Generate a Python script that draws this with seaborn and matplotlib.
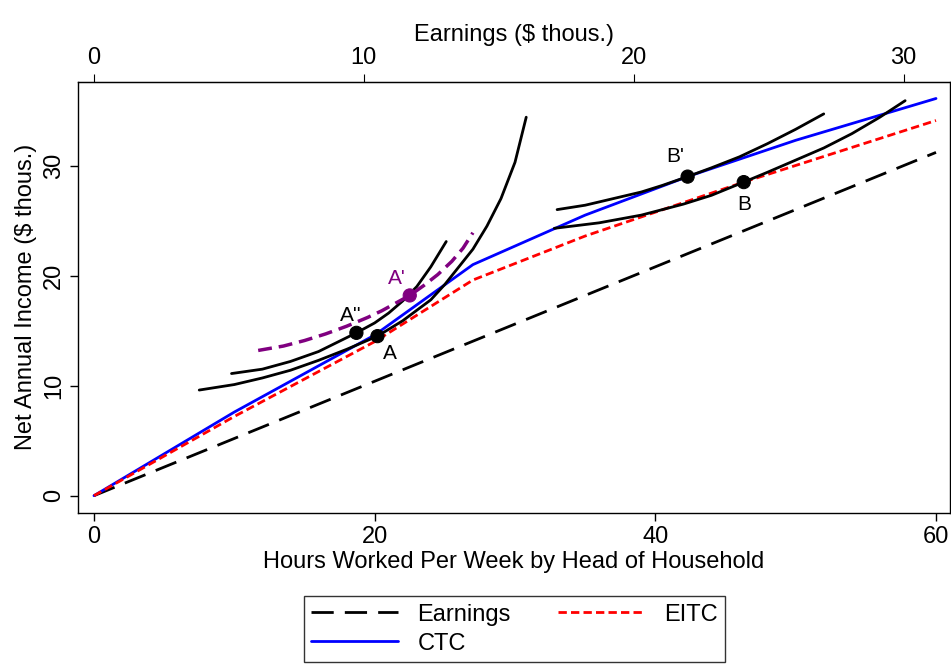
import matplotlib
matplotlib.use("Agg")
import matplotlib.pyplot as plt
from matplotlib.lines import Line2D
import seaborn as sns

sns.set_style("ticks")
plt.rcParams['font.family'] = ['Liberation Sans', 'DejaVu Sans']
plt.rcParams['text.color'] = 'black'
plt.rcParams['axes.labelcolor'] = 'black'
plt.rcParams['xtick.color'] = 'black'
plt.rcParams['ytick.color'] = 'black'

hours_budget = [0, 60]
earnings_line = [0, 31.2]
eitc_h = [0, 10, 20, 27, 35, 46.3, 60]
eitc_y = [0, 7.2, 14.0, 19.6, 23.6, 28.5, 34.1]
ctc_h = [0, 10, 20, 27, 35, 42.3, 50, 60]
ctc_y = [0, 7.6, 14.6, 21.0, 25.5, 29.0, 32.3, 36.1]

icA_h = [7.5, 10, 12, 14, 16, 18, 20.2, 22, 24, 25, 26, 27, 28, 29, 30, 30.8]
icA_y = [9.6, 10.1, 10.7, 11.4, 12.3, 13.3, 14.5, 15.9, 17.8, 19.2, 20.8, 22.4, 24.5, 27.0, 30.3, 34.4]
icA2_h = [9.8, 12, 14, 16, 18.7, 20, 21, 22, 23, 24, 25.1]
icA2_y = [11.1, 11.5, 12.2, 13.1, 14.8, 15.7, 16.6, 17.7, 19.0, 20.8, 23.1]
icAp_h = [11.7, 13.5, 15, 16.5, 18, 19.5, 20.5, 21.5, 22.5, 23.5, 24.5, 25.5, 26.3, 27]
icAp_y = [13.2, 13.6, 14.1, 14.7, 15.4, 16.2, 16.8, 17.5, 18.2, 19.1, 20.1, 21.3, 22.5, 23.9]
icBp_h = [33, 35, 37, 39, 40.5, 42.3, 44, 46, 48, 50, 52]
icBp_y = [26.0, 26.4, 27.0, 27.6, 28.2, 29.0, 29.8, 30.8, 32.0, 33.3, 34.7]
icB_h = [32.8, 36, 39, 42, 44, 46.3, 48, 50, 52, 54, 56, 57.8]
icB_y = [24.3, 24.8, 25.5, 26.5, 27.3, 28.5, 29.4, 30.5, 31.6, 32.9, 34.4, 35.9]

pt_labels = ["A", "A''", "A'", "B'", "B"]
pt_h = [20.2, 18.7, 22.5, 42.3, 46.3]
pt_y = [14.5, 14.8, 18.2, 29.0, 28.5]

fig = plt.figure(figsize=(9.51, 6.72), dpi=100)
ax = fig.add_axes([0.082, 0.237, 0.917, 0.641])

def line(x, y, **kw):
    sns.lineplot(x=x, y=y, ax=ax, estimator=None, sort=False, legend=False, **kw)

line(hours_budget, earnings_line, color='black', lw=2, dashes=(8, 4))
line(ctc_h, ctc_y, color='blue', lw=2)
line(eitc_h, eitc_y, color='red', lw=2, dashes=(3, 1.5))
for hx, hy in [(icA_h, icA_y), (icA2_h, icA2_y), (icBp_h, icBp_y), (icB_h, icB_y)]:
    line(hx, hy, color='black', lw=2)
line(icAp_h, icAp_y, color='purple', lw=2.5, dashes=(4, 2))

cols = ['black', 'black', 'purple', 'black', 'black']
sns.scatterplot(x=pt_h, y=pt_y, ax=ax, color=cols, s=90, zorder=5, edgecolor=None, legend=False)
offs = [(0.9, -1.6), (-0.4, 1.6), (-0.9, 1.5), (-0.9, 1.8), (0, -2.0)]
for lab, hx, hy, c, (dx, dy) in zip(pt_labels, pt_h, pt_y, cols, offs):
    ax.text(hx + dx, hy + dy, lab, color=c, fontsize=15, ha='center', va='center')

FS = 17
ax.set_xlim(-1.14, 61.0)
ax.set_ylim(-1.55, 37.6)
ax.set_xticks([0, 20, 40, 60])
ax.set_yticks([0, 10, 20, 30])
ax.tick_params(labelsize=FS, length=6, width=1)
for t in ax.get_yticklabels():
    t.set_rotation(90); t.set_va('center')
ax.set_xlabel('Hours Worked Per Week by Head of Household', fontsize=FS, labelpad=2)
ax.set_ylabel('Net Annual Income ($ thous.)', fontsize=FS, labelpad=4)
for s in ax.spines.values():
    s.set_visible(True); s.set_linewidth(1); s.set_color('black')

sec = ax.secondary_xaxis('top', functions=(lambda h: h * 0.52, lambda e: e / 0.52))
sec.set_xticks([0, 10, 20, 30])
sec.tick_params(labelsize=FS, length=6)
sec.set_xlabel('Earnings ($ thous.)', fontsize=FS, labelpad=4)

handles = [Line2D([], [], color='black', lw=2, dashes=(8, 4)),
           Line2D([], [], color='blue', lw=2),
           Line2D([], [], color='red', lw=2, dashes=(3, 1.5))]
labels = ['Earnings', 'CTC', 'EITC']
leg = fig.legend(handles, labels, ncol=2, loc='upper center',
                 bbox_to_anchor=(0.541, 0.13), fontsize=FS, frameon=True, fancybox=False,
                 edgecolor='black', handlelength=3.7, columnspacing=2.0, borderpad=0.3,
                 labelspacing=0.3)
leg.get_frame().set_linewidth(1)
fig.savefig('out.png', dpi=100)
